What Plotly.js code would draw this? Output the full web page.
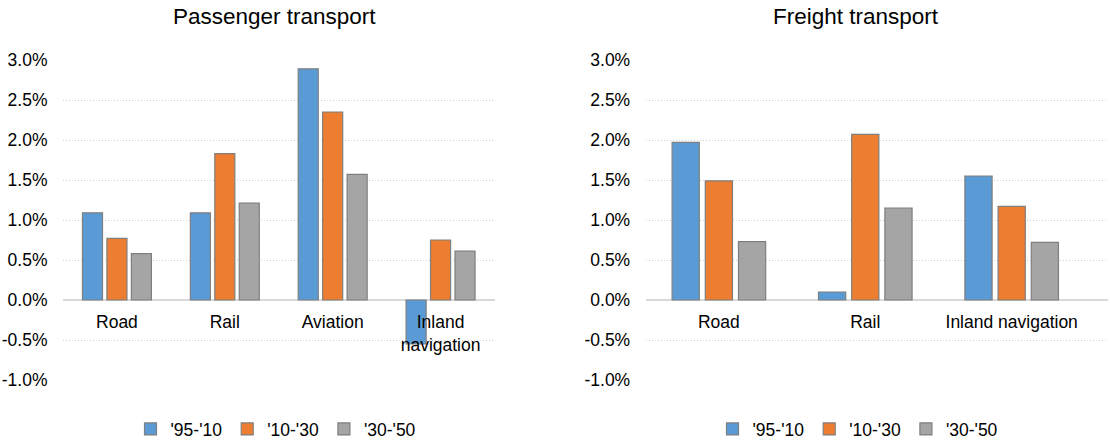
<!DOCTYPE html>
<html>
<head>
<meta charset="utf-8">
<script src="https://cdn.plot.ly/plotly-3.0.1.min.js"></script>
<style>html,body{margin:0;padding:0;background:#fff}#chart{width:1110px;height:441px}</style>
</head>
<body>
<div id="chart"></div>
<script>
const seriesNames = ["'95-'10", "'10-'30", "'30-'50"];
const seriesColors = ["#5B9BD5", "#ED7D31", "#A5A5A5"];

const passengerCategories = ["Road", "Rail", "Aviation", "Inland<br>navigation"];
const passenger9510 = [0.0109, 0.0109, 0.0289, -0.0055];
const passenger1030 = [0.0077, 0.0183, 0.0235, 0.0075];
const passenger3050 = [0.0058, 0.0121, 0.0157, 0.0061];

const freightCategories = ["Road", "Rail", "Inland navigation"];
const freight9510 = [0.0197, 0.0010, 0.0155];
const freight1030 = [0.0149, 0.0207, 0.0117];
const freight3050 = [0.0073, 0.0115, 0.0072];

const yTickVals = [-0.01, -0.005, 0, 0.005, 0.01, 0.015, 0.02, 0.025, 0.03];
const yTickText = ["-1.0%", "-0.5%", "0.0%", "0.5%", "1.0%", "1.5%", "2.0%", "2.5%", "3.0%"];

const FONT = "Liberation Sans, Arial, sans-serif";
const passengerSeries = [passenger9510, passenger1030, passenger3050];
const freightSeries = [freight9510, freight1030, freight3050];

const traces = [];
passengerSeries.forEach((vals, i) => {
  traces.push({
    type: 'bar', x: passengerCategories, y: vals, name: seriesNames[i],
    xaxis: 'x', yaxis: 'y', legend: 'legend',
    marker: {color: seriesColors[i], line: {color: '#7f7f7f', width: 1.2}},
    hoverinfo: 'skip'
  });
});
freightSeries.forEach((vals, i) => {
  traces.push({
    type: 'bar', x: freightCategories, y: vals, name: seriesNames[i],
    xaxis: 'x2', yaxis: 'y2', legend: 'legend2',
    marker: {color: seriesColors[i], line: {color: '#7f7f7f', width: 1.2}},
    hoverinfo: 'skip'
  });
});

const W = 1110, H = 441, ML = 63, MR = 2;
const PW = W - ML - MR;
const px = v => (v - ML) / PW;

const yCommon = {
  range: [-0.01, 0.03], tickmode: 'array', tickvals: yTickVals, ticktext: yTickText,
  showgrid: true, gridcolor: '#d0d0d0', griddash: '1px,2px', gridwidth: 1,
  zeroline: true, zerolinecolor: '#d9d9d9', zerolinewidth: 1.5,
  showline: false, ticks: 'outside', ticklen: 11, tickcolor: 'rgba(0,0,0,0)',
  tickfont: {family: FONT, size: 17.5, color: '#000'}, automargin: false, fixedrange: true
};
const xCommon = {
  type: 'category', showgrid: false, zeroline: false, showline: false,
  ticks: 'outside', ticklen: 6, tickcolor: 'rgba(0,0,0,0)',
  tickfont: {family: FONT, size: 17.5, color: '#000'}, automargin: false,
  anchor: 'free', position: 0.25, fixedrange: true
};

const legendCommon = {
  orientation: 'h', yref: 'container', y: (H - 429) / H, yanchor: 'middle', xanchor: 'center',
  font: {family: FONT, size: 17.5, color: '#000'}, bgcolor: 'rgba(0,0,0,0)',
  traceorder: 'normal', itemwidth: 30, borderwidth: 0
};

const layout = {
  width: W, height: H,
  margin: {l: ML, r: MR, t: 60, b: 61},
  paper_bgcolor: '#fff', plot_bgcolor: '#fff',
  font: {family: FONT, color: '#000'},
  barmode: 'group', bargap: 0.32, bargroupgap: 0.18,
  xaxis: Object.assign({}, xCommon, {domain: [0, px(494.5)], range: [-0.5, 3.5]}),
  yaxis: Object.assign({}, yCommon, {anchor: 'x'}),
  xaxis2: Object.assign({}, xCommon, {domain: [px(645.7), 1], range: [-0.5, 2.658]}),
  yaxis2: Object.assign({}, yCommon, {anchor: 'x2'}),
  legend: Object.assign({}, legendCommon, {x: px(276)}),
  legend2: Object.assign({}, legendCommon, {x: px(858)}),
  showlegend: true,
  annotations: [
    {text: 'Passenger transport', xref: 'paper', yref: 'paper', x: px(274), y: 1 + (60 - 16.5) / 320,
     xanchor: 'center', yanchor: 'middle', showarrow: false, font: {family: FONT, size: 22.5, color: '#000'}},
    {text: 'Freight transport', xref: 'paper', yref: 'paper', x: px(856), y: 1 + (60 - 16.5) / 320,
     xanchor: 'center', yanchor: 'middle', showarrow: false, font: {family: FONT, size: 22.5, color: '#000'}}
  ]
};

Plotly.newPlot('chart', traces, layout, {displayModeBar: false, staticPlot: true});
</script>
</body>
</html>
